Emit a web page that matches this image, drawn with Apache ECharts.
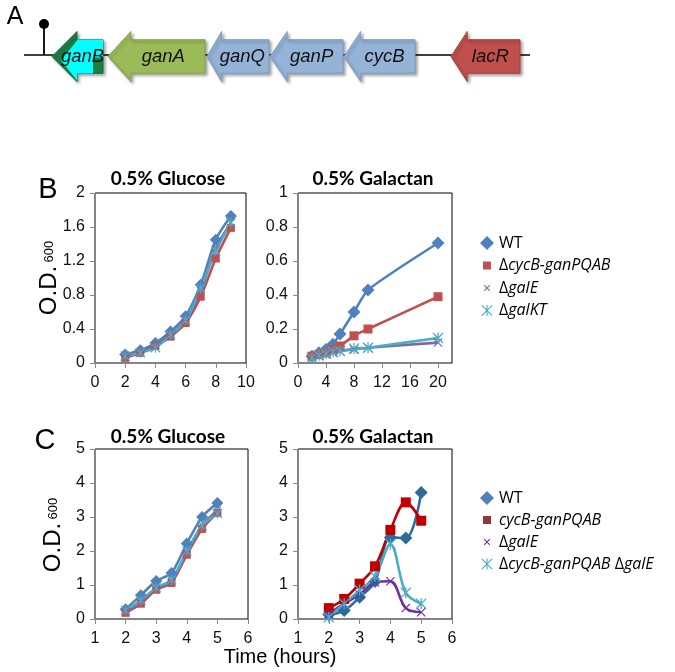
<!DOCTYPE html>
<html><head><meta charset="utf-8">
<script src="https://cdn.jsdelivr.net/npm/echarts@6/dist/echarts.min.js"></script>
<style>html,body{margin:0;padding:0;background:#fff}#c{width:675px;height:672px}</style>
</head><body><div id="c"></div>
<script>
// ---------- Panel A : gene cluster ----------
const geneNames = ['ganB','ganA','ganQ','ganP','cycB','lacR'];
const geneStart = [52,108,207,270,344,451];
const geneEnd   = [103,205,269,343,415,520];

// ---------- Panel B ----------
const bGluX     = [2,3,4,5,6,7,8,9];
const bGluWT    = [0.10,0.15,0.235,0.37,0.55,0.92,1.45,1.73];
const bGluCycB  = [0.06,0.12,0.20,0.31,0.47,0.78,1.23,1.59];
const bGluGalE  = [0.09,0.13,0.21,0.34,0.50,0.85,1.35,1.65];
const bGluGalKT = [0.08,0.12,0.18,0.33,0.50,0.88,1.32,1.65];

const bGalX     = [2,3,4,5,6,8,10,20];
const bGalWT    = [0.04,0.06,0.08,0.11,0.17,0.30,0.43,0.706];
const bGalCycB  = [0.04,0.05,0.06,0.08,0.10,0.16,0.20,0.39];
const bGalGalE  = [0.03,0.04,0.05,0.06,0.07,0.08,0.09,0.12];
const bGalGalKT = [0.03,0.045,0.055,0.065,0.07,0.085,0.09,0.147];

// ---------- Panel C ----------
const cX         = [2,2.5,3,3.5,4,4.5,5];
const cGluWT     = [0.29,0.70,1.12,1.35,2.22,3.00,3.41];
const cGluCycB   = [0.18,0.45,0.86,1.06,1.89,2.65,3.12];
const cGluGalE   = [0.22,0.50,0.90,1.10,1.95,2.75,3.20];
const cGluDouble = [0.25,0.55,0.92,1.15,2.00,2.75,3.10];
const cGalWT     = [0.13,0.25,0.64,1.10,2.40,2.38,3.72];
const cGalCycB   = [0.32,0.59,1.04,1.55,2.62,3.43,2.89];
const cGalGalE   = [0.15,0.45,0.72,1.08,1.11,0.32,0.20];
const cGalDouble = [0.05,0.45,0.85,1.25,2.20,0.77,0.45];

// ---------- Axis ticks ----------
const bGluXTicks = [0,2,4,6,8,10];
const bGluYTicks = [0,0.4,0.8,1.2,1.6,2];
const bGalXTicks = [0,4,8,12,16,20];
const bGalXMax = 22;
const bGalYTicks = [0,0.2,0.4,0.6,0.8,1];
const cXTicks = [1,2,3,4,5,6];
const cYTicks = [0,1,2,3,4,5];

// ---------- Legends / texts ----------
const bLegend = ['WT','ΔcycB-ganPQAB','ΔgalE','ΔgalKT'];
const cLegend = ['WT','cycB-ganPQAB','ΔgalE','ΔcycB-ganPQAB ΔgalE'];
const titleGlu = '0.5% Glucose';
const titleGal = '0.5% Galactan';

// ---------- symbols ----------
function pts2path(p){return 'M'+p.map(q=>q[0].toFixed(2)+','+q[1].toFixed(2)).join('L')+'Z';}
function crossPath(a,b,t,vert){
  const k=t*0.7, m=(a+b)/2;
  let s=pts2path([[a+k,a],[b,b-k],[b-k,b],[a,a+k]])+pts2path([[b-k,a],[b,a+k],[a+k,b],[a,b-k]]);
  if(vert) s+=pts2path([[m-t/2,a],[m+t/2,a],[m+t/2,b],[m-t/2,b]]);
  return s;
}
const SYM = {
  diamond:'diamond', square:'rect',
  cross:'path://'+crossPath(0,10,1.3,false),
  star:'path://'+crossPath(0,10,1.2,true)
};
const ICON = {
  diamond:'path://M7,0L14,7L7,14L0,7Z',
  square:'path://M0,0M14,14M3,3L11,3L11,11L3,11Z',
  cross:'path://M0,0M14,14'+crossPath(3.8,10.2,1.1,false),
  star:'path://M0,0M14,14'+crossPath(1.5,12.5,1.1,true)
};

const COL = {wt:'#4F81BD', red:'#C0504D', pur:'#8064A2', cyan:'#4BACC6',
             wtD:'#2C6C9B', redD:'#C00000', purD:'#7030A0', redL:'#953735'};

function mk(name, xs, ys, gi, color, sym, size, smooth){
  return {
    type:'line', name:name, xAxisIndex:gi, yAxisIndex:gi,
    data: xs.map((x,i)=>[x, ys[i]]),
    smooth: smooth, symbol: SYM[sym], symbolSize: size,
    itemStyle:{color:color}, lineStyle:{color:color, width:2.6},
    z:3
  };
}

function axisCommon(){
  return {
    axisLine:{show:true, onZero:false, lineStyle:{color:'#888', width:1}},
    axisTick:{show:true, length:5, lineStyle:{color:'#888'}},
    splitLine:{show:false},
    axisLabel:{color:'#111', fontFamily:'Liberation Sans, Arial', fontSize:16}
  };
}
function xAx(gi, ticks, max){
  const a = axisCommon();
  return Object.assign(a, {type:'value', gridIndex:gi, min:ticks[0], max:(max!==undefined?max:ticks[ticks.length-1]),
    interval:ticks[1]-ticks[0], axisLabel:Object.assign(a.axisLabel,{margin:12, showMaxLabel: max===undefined})});
}
function yAx(gi, ticks){
  const a = axisCommon();
  return Object.assign(a, {type:'value', gridIndex:gi, min:ticks[0], max:ticks[ticks.length-1],
    interval:ticks[1]-ticks[0], axisLabel:Object.assign(a.axisLabel,{margin:10})});
}

function fmtLabel(name){
  const label = name.split('|')[1];
  if(label==='WT') return '{r|WT}';
  const parts = label.match(/Δ|[^Δ]+/g);
  return parts.map(p=> p==='Δ' ? '{r|Δ}' : '{i|'+p+'}').join('');
}
const legendText = {fontFamily:'Open Sans', fontSize:16, color:'#000', lineHeight:20,
  rich:{r:{fontFamily:'Open Sans', fontSize:16, color:'#000', lineHeight:20},
        i:{fontFamily:'Open Sans', fontSize:16, color:'#000', fontStyle:'italic', lineHeight:20}}};

const gbox = {show:true, borderColor:'#000', borderWidth:1, backgroundColor:'transparent', outerBoundsMode:'none', containLabel:false};

// gene renderer
const geneFill = ['#1B7F45','#9BBB59','#95B3D7','#95B3D7','#95B3D7','#C0504D'];
const geneStroke = ['#166B3A','#87A54B','#7D9DC6','#7D9DC6','#7D9DC6','#A8423F'];
function renderGene(params, api){
  const idx = api.value(2);
  const pS = api.coord([api.value(0), 56.5]);
  const pE = api.coord([api.value(1), 56.5]);
  const s = pS[0], e = pE[0], cy = pS[1];
  const len = e - s;
  const head = idx===0 ? 25 : Math.max(14, Math.min(23, len*0.235));
  const hh = 25, bh = 16.8;
  const poly = [[s,cy],[s+head,cy-hh],[s+head,cy-bh],[e,cy-bh],[e,cy+bh],[s+head,cy+bh],[s+head,cy+hh]];
  const children = [{
    type:'polygon', shape:{points:poly},
    style:{fill:geneFill[idx], stroke:geneStroke[idx], lineWidth:1,
      shadowBlur:3, shadowOffsetX:2, shadowOffsetY:2, shadowColor:'rgba(0,0,0,0.35)'}
  }];
  if(idx===0){
    children.push({type:'polygon', shape:{points:[[s+9,cy+4],[s+25,cy-16],[s+25,cy-17],[e,cy-17],[e,cy+1],[e-10,cy+1],[e-10,cy+17],[s+25,cy+17],[s+25,cy+24]]},
      style:{fill:'#00FFFF'}});
  }
  const tx = idx===0 ? (s+e)/2+5 : (s + head*0.6 + e)/2;
  children.push({type:'text', x:tx, y:cy,
    style:{text:geneNames[idx], font:'italic 18.5px "Liberation Sans", Arial', fill:'#111', align:'center', verticalAlign:'middle'}});
  return {type:'group', children:children};
}

const option = {
  animation:false,
  backgroundColor:'#fff',
  grid:[
    Object.assign({left:95, top:193, width:151, height:170}, gbox),
    Object.assign({left:298, top:193, width:154, height:170}, gbox),
    Object.assign({left:95, top:449, width:153, height:170}, gbox),
    Object.assign({left:298, top:449, width:154, height:170}, gbox),
    {left:0, top:0, width:675, height:100, show:false, outerBoundsMode:'none'}
  ],
  xAxis:[ xAx(0,bGluXTicks), xAx(1,bGalXTicks,bGalXMax), xAx(2,cXTicks), xAx(3,cXTicks),
    {type:'value', gridIndex:4, min:0, max:675, show:false} ],
  yAxis:[ yAx(0,bGluYTicks), yAx(1,bGalYTicks), yAx(2,cYTicks), yAx(3,cYTicks),
    {type:'value', gridIndex:4, min:0, max:100, inverse:true, show:false} ],
  legend:[
    {orient:'vertical', left:480, top:233, padding:0, itemWidth:14, itemHeight:14, itemGap:2.5,
     selectedMode:false, textStyle:legendText, formatter:fmtLabel,
     data:[{name:'B|'+bLegend[0], icon:ICON.diamond},{name:'B|'+bLegend[1], icon:ICON.square},
           {name:'B|'+bLegend[2], icon:ICON.cross},{name:'B|'+bLegend[3], icon:ICON.star}]},
    {orient:'vertical', left:480, top:488, padding:0, itemWidth:14, itemHeight:14, itemGap:2,
     selectedMode:false, textStyle:legendText, formatter:fmtLabel,
     data:[{name:'C|'+cLegend[0], icon:ICON.diamond, itemStyle:{color:COL.wt}},
           {name:'C|'+cLegend[1], icon:ICON.square, itemStyle:{color:COL.redL}},
           {name:'C|'+cLegend[2], icon:ICON.cross, itemStyle:{color:COL.purD}},
           {name:'C|'+cLegend[3], icon:ICON.star, itemStyle:{color:COL.cyan}}]}
  ],
  series:[
    mk('B|'+bLegend[0], bGluX, bGluWT, 0, COL.wt, 'diamond', 12, 0.3),
    mk('B|'+bLegend[1], bGluX, bGluCycB, 0, COL.red, 'square', 8, 0.3),
    mk('B|'+bLegend[2], bGluX, bGluGalE, 0, COL.pur, 'cross', 8, 0.3),
    mk('B|'+bLegend[3], bGluX, bGluGalKT, 0, COL.cyan, 'star', 10, 0.3),
    mk('B|'+bLegend[0], bGalX, bGalWT, 1, COL.wt, 'diamond', 13, 0.2),
    mk('B|'+bLegend[1], bGalX, bGalCycB, 1, COL.red, 'square', 9, 0.2),
    mk('B|'+bLegend[2], bGalX, bGalGalE, 1, COL.pur, 'cross', 9, 0.2),
    mk('B|'+bLegend[3], bGalX, bGalGalKT, 1, COL.cyan, 'star', 11, 0.2),
    mk('C|'+cLegend[0], cX, cGluWT, 2, COL.wt, 'diamond', 12, 0.25),
    mk('C|'+cLegend[1], cX, cGluCycB, 2, COL.red, 'square', 8, 0.25),
    mk('C|'+cLegend[2], cX, cGluGalE, 2, COL.pur, 'cross', 8, 0.25),
    mk('C|'+cLegend[3], cX, cGluDouble, 2, COL.cyan, 'star', 10, 0.25),
    mk('C|'+cLegend[0], cX, cGalWT, 3, COL.wtD, 'diamond', 13, 0.35),
    mk('C|'+cLegend[1], cX, cGalCycB, 3, COL.redD, 'square', 10, 0.35),
    mk('C|'+cLegend[2], cX, cGalGalE, 3, COL.purD, 'cross', 9, 0.35),
    mk('C|'+cLegend[3], cX, cGalDouble, 3, COL.cyan, 'star', 11, 0.35),
    {type:'custom', name:'genes', xAxisIndex:4, yAxisIndex:4, z:5, renderItem:renderGene,
     data: geneNames.map((g,i)=>[geneStart[i], geneEnd[i], i])}
  ],
  graphic:[
    {type:'line', z:0, shape:{x1:24, y1:55, x2:530, y2:55}, style:{stroke:'#000', lineWidth:1.6}},
    {type:'line', z:0, shape:{x1:44, y1:55, x2:44, y2:26}, style:{stroke:'#000', lineWidth:1.8}},
    {type:'circle', z:1, shape:{cx:44, cy:24, r:5}, style:{fill:'#000'}},
    {type:'text', x:15, y:17, style:{text:'A', font:'25px "Liberation Sans", Arial', fill:'#000', align:'center', verticalAlign:'middle'}},
    {type:'text', x:48, y:190, style:{text:'B', font:'29px "Liberation Sans", Arial', fill:'#000', align:'center', verticalAlign:'middle'}},
    {type:'text', x:45, y:441, style:{text:'C', font:'29px "Liberation Sans", Arial', fill:'#000', align:'center', verticalAlign:'middle'}},
    {type:'text', x:168, y:179, style:{text:titleGlu, font:'bold 19px Lato, "Open Sans"', fill:'#000', align:'center', verticalAlign:'middle'}},
    {type:'text', x:373, y:179, style:{text:titleGal, font:'bold 19px Lato, "Open Sans"', fill:'#000', align:'center', verticalAlign:'middle'}},
    {type:'text', x:168, y:437, style:{text:titleGlu, font:'bold 19px Lato, "Open Sans"', fill:'#000', align:'center', verticalAlign:'middle'}},
    {type:'text', x:373, y:437, style:{text:titleGal, font:'bold 19px Lato, "Open Sans"', fill:'#000', align:'center', verticalAlign:'middle'}},
    {type:'text', x:49, y:278, rotation:Math.PI/2,
     style:{text:'{a|O.D.} {b|600}', align:'center', verticalAlign:'middle',
       rich:{a:{fontFamily:'Liberation Sans', fontSize:24, fill:'#000'}, b:{fontFamily:'Liberation Sans', fontSize:13, fill:'#000'}}}},
    {type:'text', x:53, y:535, rotation:Math.PI/2,
     style:{text:'{a|O.D.} {b|600}', align:'center', verticalAlign:'middle',
       rich:{a:{fontFamily:'Liberation Sans', fontSize:24, fill:'#000'}, b:{fontFamily:'Liberation Sans', fontSize:13, fill:'#000'}}}},
    {type:'text', x:280, y:657, style:{text:'Time (hours)', font:'20px "Liberation Sans", Arial', fill:'#000', align:'center', verticalAlign:'middle'}}
  ]
};
const chart = echarts.init(document.getElementById('c'), null, {renderer:'canvas'});
chart.setOption(option);
</script></body></html>
